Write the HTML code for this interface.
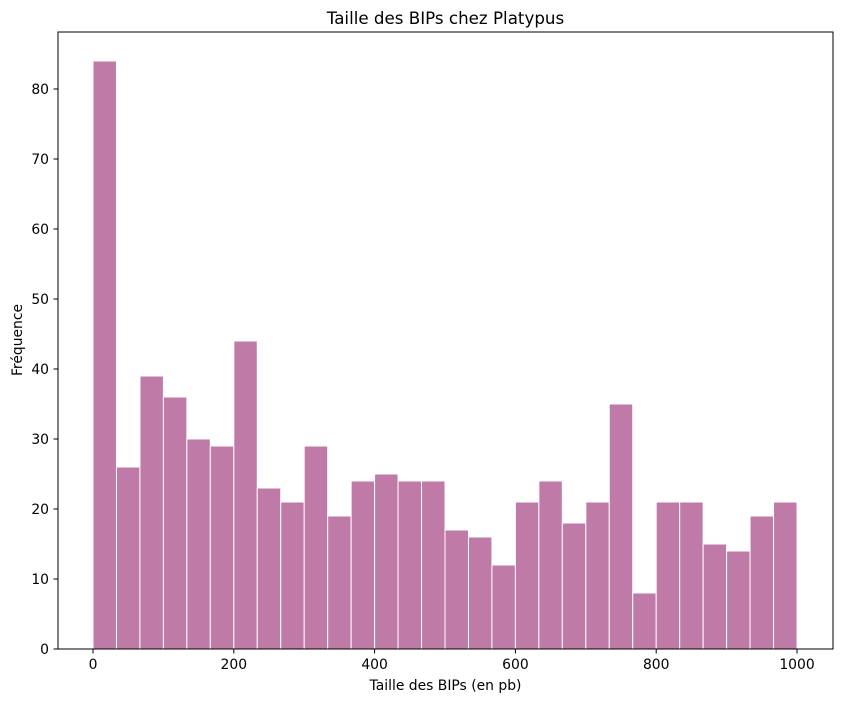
<!DOCTYPE html>
<html><head><meta charset="utf-8">
<style>
body{margin:0;background:#fff;}
svg text{font-family:"DejaVu Sans","Liberation Sans",sans-serif;fill:#000;}
</style></head>
<body>
<svg id="chart" width="842" height="701" xmlns="http://www.w3.org/2000/svg">
<rect x="0" y="0" width="842" height="701" fill="#fff"/>
<g id="bars"></g>
<rect x="58" y="32" width="775" height="617" fill="none" stroke="#000" stroke-width="1"/>
<g id="xticks"></g><g id="yticks"></g>
<text x="445.5" y="24" font-size="16.7" text-anchor="middle">Taille des BIPs chez Platypus</text>
<text x="445.5" y="690" font-size="13.9" text-anchor="middle">Taille des BIPs (en pb)</text>
<text x="22" y="340" font-size="13.9" text-anchor="middle" transform="rotate(-90 22 340)">Fréquence</text>
</svg>
<script>
const counts=[84,26,39,36,30,29,44,23,21,29,19,24,25,24,24,17,16,12,21,24,18,21,35,8,21,21,15,14,19,21];
const binStart=0, binEnd=1000;
const xTickVals=[0,200,400,600,800,1000];
const yTickVals=[0,10,20,30,40,50,60,70,80];
const NS="http://www.w3.org/2000/svg";
const xs=v=>93+(v-0)*(797-93)/1000;
const ys=v=>649-v*7;
const bw=(binEnd-binStart)/counts.length;
const bars=document.getElementById('bars');
counts.forEach((c,i)=>{
  const r=document.createElementNS(NS,'rect');
  const x0=xs(binStart+i*bw), x1=xs(binStart+(i+1)*bw);
  r.setAttribute('x',x0);r.setAttribute('y',ys(c));
  r.setAttribute('width',x1-x0);r.setAttribute('height',ys(0)-ys(c));
  r.setAttribute('fill','#bf7aa7');r.setAttribute('stroke','#fff');r.setAttribute('stroke-width','1');
  
  
  bars.appendChild(r);
});
const xt=document.getElementById('xticks');
xTickVals.forEach(v=>{
  const l=document.createElementNS(NS,'line');
  l.setAttribute('x1',xs(v));l.setAttribute('x2',xs(v));l.setAttribute('y1',649);l.setAttribute('y2',653.5);l.setAttribute('stroke','#000');
  
  
  xt.appendChild(l);
  const t=document.createElementNS(NS,'text');
  t.setAttribute('x',xs(v));t.setAttribute('y',669);t.setAttribute('font-size','13.9');t.setAttribute('text-anchor','middle');
  t.textContent=v;
  
  
  xt.appendChild(t);
});
const yt=document.getElementById('yticks');
yTickVals.forEach(v=>{
  const l=document.createElementNS(NS,'line');
  l.setAttribute('x1',53.5);l.setAttribute('x2',58);l.setAttribute('y1',ys(v));l.setAttribute('y2',ys(v));l.setAttribute('stroke','#000');
  
  
  yt.appendChild(l);
  const t=document.createElementNS(NS,'text');
  t.setAttribute('x',49);t.setAttribute('y',ys(v)+5);t.setAttribute('font-size','13.9');t.setAttribute('text-anchor','end');
  t.textContent=v;
  
  
  yt.appendChild(t);
});
</script>
</body></html>
